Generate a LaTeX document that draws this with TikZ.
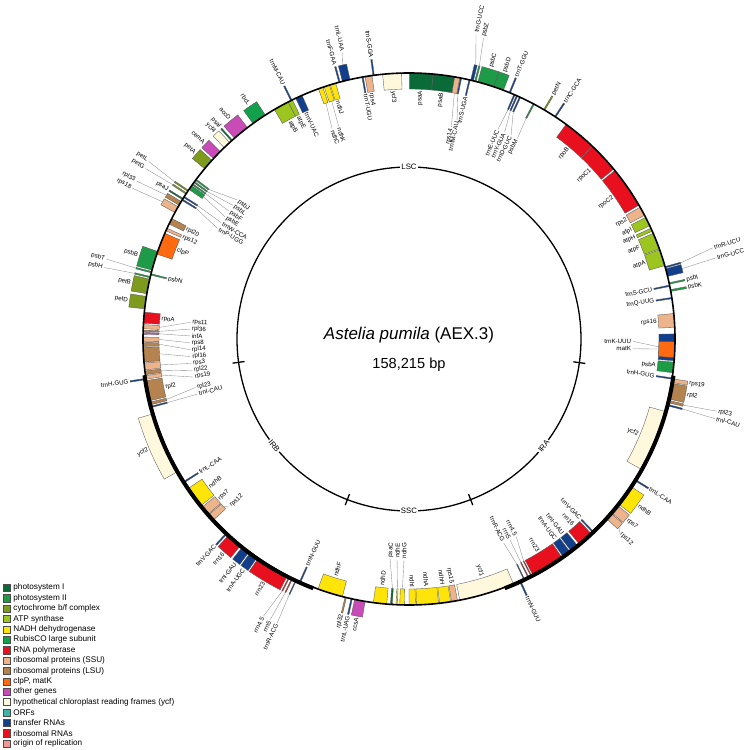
\documentclass[tikz,border=0pt]{standalone}
\usepackage{fontspec}
\setmainfont{Liberation Sans}
\definecolor{cPSI}{HTML}{0B6B38}
\definecolor{cPSII}{HTML}{1E9B47}
\definecolor{cCYT}{HTML}{7E9B1E}
\definecolor{cATP}{HTML}{9CC520}
\definecolor{cNDH}{HTML}{FFE40A}
\definecolor{cRBC}{HTML}{13A04C}
\definecolor{cRPO}{HTML}{E8101E}
\definecolor{cSSU}{HTML}{EDB48C}
\definecolor{cLSU}{HTML}{B5834F}
\definecolor{cCLP}{HTML}{FF6A10}
\definecolor{cOTH}{HTML}{C84BB8}
\definecolor{cYCF}{HTML}{FFF8DC}
\definecolor{cORF}{HTML}{3BB5A9}
\definecolor{cTRN}{HTML}{123F8C}
\definecolor{cRRN}{HTML}{E8101E}
\definecolor{cORI}{HTML}{F29595}
% #1 start, #2 end (deg clockwise from top), #3 o/i, #4 colour, #5 label, #6 label angle (empty = middle), #7 leader length
\newcommand\G[7]{%
  \pgfmathsetmacro\Ga{90-#1}%
  \pgfmathsetmacro\Gb{90-#2}%
  \pgfmathsetmacro\Gm{90-(#1+#2)/2}%
  \pgfmathsetmacro\Gmid{(#1+#2)/2}%
  \def\Gtmp{#6}%
  \ifx\Gtmp\empty \let\Gl\Gm \else \pgfmathsetmacro\Gl{90-#6}\fi
  \if o#3\def\Gra{266}\def\Grb{282}\def\Gre{282}\def\Gsg{1}\else\def\Gra{250}\def\Grb{266}\def\Gre{250}\def\Gsg{-1}\fi
  \filldraw[genebox,fill=#4] (\Ga:\Gra pt) arc[start angle=\Ga,end angle=\Gb,radius=\Gra pt] -- (\Gb:\Grb pt) arc[start angle=\Gb,end angle=\Ga,radius=\Grb pt] -- cycle;
  \pgfmathsetmacro\Gld{\Gre+\Gsg*#7}%
  \pgfmathsetmacro\Grl{\Gre+\Gsg*(#7+1.6)}%
  \ifdim #7pt>0pt \draw[leader] (\Gm:\Gre pt) -- (\Gl:\Gld pt);\fi
  \ifdim\Gmid pt<180pt
    \let\Grot\Gl \if o#3\def\Ganc{west}\else\def\Ganc{east}\fi
  \else
    \pgfmathsetmacro\Grot{\Gl+180}\if o#3\def\Ganc{east}\else\def\Ganc{west}\fi
  \fi
  \node[glabel,anchor=\Ganc,rotate=\Grot] at (\Gl:\Grl pt) {#5};
}
\begin{document}
\begin{tikzpicture}[x=1pt,y=1pt,
  genebox/.style={draw=black!65,line width=0.35pt},
  leader/.style={draw=black!45,line width=0.35pt},
  glabel/.style={font=\fontsize{6.2}{6.5}\selectfont,inner sep=0pt},
  reglabel/.style={font=\fontsize{7.8}{9}\selectfont,fill=white,inner sep=1.2pt},
  legbox/.style={draw=black!70,line width=0.4pt},
  legtext/.style={font=\fontsize{8.2}{9}\selectfont,anchor=west,inner sep=0pt}]
\useasboundingbox (0,0) rectangle (746,750);
\begin{scope}[shift={(409,411)}]
% ---------- LSC (right half)
\G{0.1}{5.2}{i}{cPSI}{psaA}{}{0}
\G{5.2}{9.9}{i}{cPSI}{psaB}{}{0}
\G{9.9}{11.0}{i}{cSSU}{rps14}{11.3}{34}
\G{11.1}{11.4}{i}{cTRN}{trnfM-CAU}{12.4}{26}
\G{13.0}{13.3}{i}{cTRN}{trnS-UGA}{}{0}
\G{13.4}{14.0}{o}{cTRN}{trnG-UCC}{12.4}{30}
\G{14.3}{14.6}{o}{cPSII}{psbZ}{13.9}{28}
\G{15.0}{18.6}{o}{cPSII}{psbC}{}{0}
\G{18.6}{20.8}{o}{cPSII}{psbD}{}{0}
\G{22.1}{22.4}{o}{cTRN}{trnT-GGU}{}{0}
\G{23.2}{23.5}{i}{cTRN}{trnE-UUC}{23.0}{22}
\G{23.8}{24.1}{i}{cTRN}{trnY-GUA}{24.8}{22}
\G{24.5}{24.8}{i}{cTRN}{trnD-GUC}{26.6}{22}
\G{27.8}{28.1}{i}{cPSII}{psbM}{28.4}{22}
\G{30.4}{30.7}{o}{cCYT}{petN}{}{0}
\G{33.2}{33.5}{o}{cTRN}{trnC-GCA}{}{0}
\G{36.2}{43.5}{i}{cRPO}{rpoB}{}{0}
\G{43.6}{50.3}{i}{cRPO}{rpoC1}{}{0}
\G{50.7}{59.8}{i}{cRPO}{rpoC2}{}{0}
\G{60.3}{62.3}{i}{cSSU}{rps2}{}{0}
\G{62.8}{64.8}{i}{cATP}{atpI}{}{0}
\G{65.4}{66.1}{i}{cATP}{atpH}{}{0}
\G{66.6}{70.2}{i}{cATP}{atpF}{}{0}
\G{70.4}{74.0}{i}{cATP}{atpA}{}{0}
\G{74.2}{74.5}{o}{cTRN}{trnR-UCU}{73.3}{35}
\G{74.7}{76.4}{o}{cTRN}{trnG-UCC}{75.2}{35}
\G{77.8}{78.1}{o}{cPSII}{psbI}{}{0}
\G{78.3}{78.6}{i}{cTRN}{trnS-GCU}{}{0}
\G{79.3}{79.7}{o}{cPSII}{psbK}{}{0}
\G{81.0}{81.3}{i}{cTRN}{trnQ-UUG}{}{0}
\G{84.5}{87.5}{i}{cSSU}{rps16}{}{0}
\G{88.9}{94.7}{i}{cTRN}{trnK-UUU}{90.6}{26}
\G{90.6}{94.0}{i}{cCLP}{matK}{92.5}{26}
\G{95.0}{97.3}{i}{cPSII}{psbA}{}{0}
\G{98.4}{98.7}{i}{cTRN}{trnH-GUG}{}{0}
% ---------- IRA
\G{98.6}{99.4}{o}{cSSU}{rps19}{}{0}
\G{99.6}{103.0}{o}{cLSU}{rpl2}{}{0}
\G{103.3}{103.8}{o}{cLSU}{rpl23}{103.2}{34}
\G{104.2}{104.5}{o}{cTRN}{trnI-CAU}{104.6}{34}
\G{105.8}{119.3}{i}{cYCF}{ycf2}{}{0}
\G{121.8}{122.1}{o}{cTRN}{trnL-CAA}{}{0}
\G{123.6}{128.2}{o}{cNDH}{ndhB}{}{0}
\G{128.6}{130.6}{o}{cSSU}{rps7}{}{0}
\G{130.8}{132.3}{o}{cSSU}{rps12}{132.6}{4}
\G{136.2}{136.5}{i}{cTRN}{trnV-GAC}{}{0}
\G{136.9}{140.3}{i}{cRRN}{rrn16}{}{0}
\G{140.8}{142.6}{i}{cTRN}{trnI-GAU}{}{0}
\G{142.9}{144.7}{i}{cTRN}{trnA-UGC}{}{0}
\G{145.0}{152.3}{i}{cRRN}{rrn23}{}{0}
\G{152.6}{152.8}{i}{cRRN}{rrn4.5}{151.5}{25}
\G{153.3}{153.5}{i}{cRRN}{rrn5}{153.3}{25}
\G{154.3}{154.5}{i}{cTRN}{trnR-ACG}{155.1}{25}
\G{155.2}{155.5}{o}{cTRN}{trnN-GUU}{}{0}
% ---------- SSC
\G{156.9}{169.0}{i}{cYCF}{ycf1}{}{0}
\G{169.5}{170.8}{i}{cSSU}{rps15}{}{0}
\G{171.0}{173.4}{i}{cNDH}{ndhH}{}{0}
\G{173.6}{178.4}{i}{cNDH}{ndhA}{}{0}
\G{178.6}{180.0}{i}{cNDH}{ndhI}{}{0}
\G{181.0}{182.0}{i}{cNDH}{ndhG}{181.3}{29}
\G{182.5}{182.8}{i}{cNDH}{ndhE}{183.1}{29}
\G{183.6}{184.0}{i}{cPSI}{psaC}{184.9}{29}
\G{184.8}{187.7}{i}{cNDH}{ndhD}{}{0}
\G{189.5}{191.8}{o}{cOTH}{ccsA}{}{0}
\G{192.3}{192.6}{o}{cTRN}{trnL-UAG}{}{0}
\G{193.6}{193.9}{o}{cLSU}{rpl32}{}{0}
\G{194.5}{200.0}{i}{cNDH}{ndhF}{}{0}
% ---------- IRB
\G{204.0}{204.3}{i}{cTRN}{trnN-GUU}{}{0}
\G{205.0}{205.2}{o}{cTRN}{trnR-ACG}{204.9}{31}
\G{205.9}{206.1}{o}{cRRN}{rrn5}{206.3}{31}
\G{206.6}{206.8}{o}{cRRN}{rrn4.5}{207.7}{31}
\G{207.2}{214.5}{o}{cRRN}{rrn23}{}{0}
\G{214.8}{216.6}{o}{cTRN}{trnA-UGC}{}{0}
\G{216.9}{218.7}{o}{cTRN}{trnI-GAU}{}{0}
\G{219.2}{222.6}{o}{cRRN}{rrn16}{}{0}
\G{223.0}{223.3}{o}{cTRN}{trnV-GAC}{}{0}
\G{227.2}{228.7}{i}{cSSU}{rps12}{226.9}{4}
\G{228.9}{230.9}{i}{cSSU}{rps7}{}{0}
\G{231.3}{235.9}{i}{cNDH}{ndhB}{}{0}
\G{237.4}{237.7}{i}{cTRN}{trnL-CAA}{}{0}
\G{240.2}{253.7}{o}{cYCF}{ycf2}{}{0}
\G{255.1}{255.4}{i}{cTRN}{trnI-CAU}{255.4}{31}
\G{255.7}{256.3}{i}{cLSU}{rpl23}{257.2}{31}
\G{256.6}{261.0}{i}{cLSU}{rpl2}{}{0}
\G{261.2}{261.5}{o}{cTRN}{trnH-GUG}{}{0}
% ---------- LSC (left half)
\G{261.3}{262.1}{i}{cSSU}{rps19}{260.0}{31}
\G{262.3}{263.1}{i}{cLSU}{rpl22}{261.8}{31}
\G{263.3}{264.8}{i}{cSSU}{rps3}{263.6}{31}
\G{265.0}{268.2}{i}{cLSU}{rpl16}{265.4}{31}
\G{268.4}{269.2}{i}{cLSU}{rpl14}{267.2}{31}
\G{269.4}{270.4}{i}{cSSU}{rps8}{269.0}{31}
\G{271.0}{271.4}{i}{cOTH}{infA}{270.8}{31}
\G{271.6}{271.9}{i}{cLSU}{rpl36}{272.6}{31}
\G{272.2}{273.1}{i}{cSSU}{rps11}{274.4}{31}
\G{273.4}{275.8}{i}{cRPO}{rpoA}{}{0}
\G{276.5}{279.2}{o}{cCYT}{petD}{}{0}
\G{279.8}{283.0}{o}{cCYT}{petB}{}{0}
\G{283.3}{283.6}{o}{cPSII}{psbH}{283.2}{31}
\G{283.9}{284.2}{i}{cPSII}{psbN}{}{0}
\G{284.4}{284.7}{o}{cPSII}{psbT}{284.8}{31}
\G{285.0}{289.2}{o}{cPSII}{psbB}{}{0}
\G{288.6}{293.4}{i}{cCLP}{clpP}{}{0}
\G{294.0}{294.6}{i}{cSSU}{rps12}{}{0}
\G{295.6}{296.9}{i}{cLSU}{rpl20}{}{0}
\G{298.4}{299.8}{o}{cSSU}{rps18}{298.6}{33}
\G{300.2}{301.1}{o}{cLSU}{rpl33}{300.1}{33}
\G{301.4}{301.7}{i}{cTRN}{trnP-UGG}{300.0}{29}
\G{301.6}{301.9}{o}{cPSI}{psaJ}{}{0}
\G{302.1}{302.4}{i}{cTRN}{trnW-CCA}{301.8}{29}
\G{303.0}{303.3}{o}{cCYT}{petG}{302.9}{32}
\G{303.7}{304.0}{o}{cCYT}{petL}{304.3}{33}
\G{304.2}{305.2}{i}{cPSII}{psbE}{303.6}{29}
\G{305.4}{305.7}{i}{cPSII}{psbF}{305.4}{29}
\G{306.0}{306.3}{i}{cPSII}{psbL}{307.2}{29}
\G{306.6}{306.9}{i}{cPSII}{psbJ}{309.0}{29}
\G{309.8}{312.2}{o}{cCYT}{petA}{}{0}
\G{312.7}{314.8}{o}{cOTH}{cemA}{}{0}
\G{316.0}{317.6}{o}{cYCF}{ycf4}{}{0}
\G{318.1}{318.4}{o}{cPSI}{psaI}{}{0}
\G{319.0}{322.6}{o}{cOTH}{accD}{}{0}
\G{324.1}{327.3}{o}{cRBC}{rbcL}{}{0}
\G{329.6}{333.0}{i}{cATP}{atpB}{}{0}
\G{333.0}{334.0}{i}{cATP}{atpE}{}{0}
\G{333.6}{333.9}{o}{cTRN}{trnM-CAU}{}{0}
\G{334.8}{336.3}{i}{cTRN}{trnV-UAC}{}{0}
\G{340.1}{341.1}{i}{cNDH}{ndhC}{339.9}{26}
\G{341.4}{342.6}{i}{cNDH}{ndhK}{341.7}{26}
\G{342.8}{344.0}{i}{cNDH}{ndhJ}{}{0}
\G{344.7}{345.0}{o}{cTRN}{trnF-GAA}{}{0}
\G{345.5}{347.2}{o}{cTRN}{trnL-UAA}{347.0}{12}
\G{349.8}{350.1}{i}{cTRN}{trnT-UGU}{}{0}
\G{350.5}{352.0}{i}{cSSU}{rps4}{}{0}
\G{352.2}{352.5}{o}{cTRN}{trnS-GGA}{}{0}
\G{354.3}{358.4}{i}{cYCF}{ycf3}{}{0}
% ---------- genome ring
\draw[line width=1.6pt] (0,0) circle[radius=266pt];
\draw[line width=4pt] (-7.9:267pt) arc[start angle=-7.9,end angle=-69,radius=267pt];
\draw[line width=4pt] (-111:267pt) arc[start angle=-111,end angle=-172.2,radius=267pt];
% ---------- inner circle with regions
\draw[line width=1.3pt] (0,0) circle[radius=172pt];
\foreach \t in {97.9,159,201,262.2}{
  \draw[line width=1.3pt] ({90-\t}:166pt) -- ({90-\t}:178pt);
}
\node[reglabel] (lsc) at (90:172pt) {LSC};
\node[reglabel] (ssc) at (-90:172pt) {SSC};
\node[reglabel,rotate=51.5] (ira) at (-38.5:172pt) {IRA};
\node[reglabel,rotate=-51.6] (irb) at (-141.6:172pt) {IRB};
% ---------- centre text
\node (title) at (0,4) {\fontsize{17}{20}\selectfont\itshape Astelia pumila\upshape\ (AEX.3)};
\node (size) at (0,-26) {\fontsize{14.6}{17}\selectfont 158,215 bp};
\end{scope}
% ---------- legend
\foreach \c/\t [count=\i from 0] in {cPSI/{photosystem I},cPSII/{photosystem II},cCYT/{cytochrome b/f complex},cATP/{ATP synthase},cNDH/{NADH dehydrogenase},cRBC/{RubisCO large subunit},cRPO/{RNA polymerase},cSSU/{ribosomal proteins (SSU)},cLSU/{ribosomal proteins (LSU)},cCLP/{clpP, matK},cOTH/{other genes},cYCF/{hypothetical chloroplast reading frames (ycf)},cORF/{ORFs},cTRN/{transfer RNAs},cRRN/{ribosomal RNAs},cORI/{origin of replication}}{
  \pgfmathsetmacro\yy{750-587.8-10.39*\i}
  \filldraw[legbox,fill=\c] (2.8,\yy-3.6) rectangle (10.1,\yy+3.6);
  \node[legtext] at (13.2,\yy) {\t};
}
\end{tikzpicture}
\end{document}
